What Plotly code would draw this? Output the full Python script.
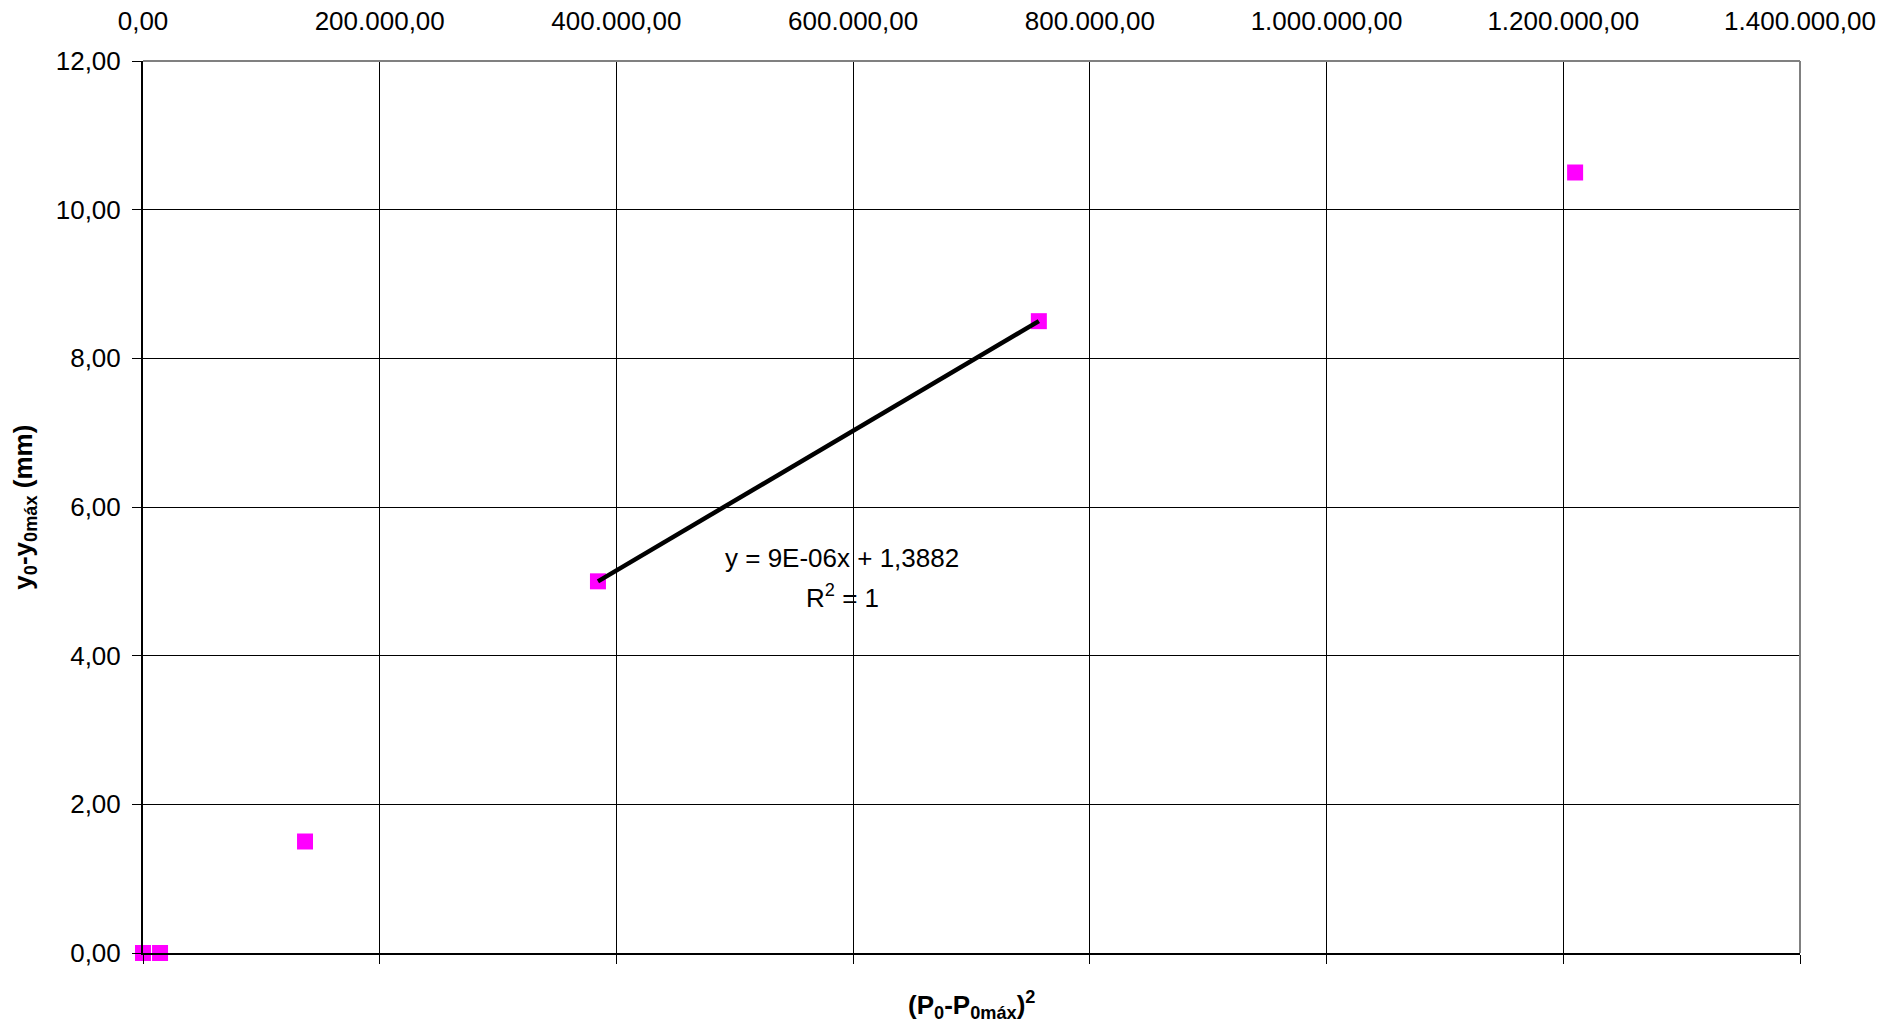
import numpy as np
import plotly.graph_objects as go

# Data
x_vals = [0, 14400, 136900, 384400, 756900, 1210000]
y_vals = [0.0, 0.0, 1.5, 5.0, 8.5, 10.5]
trend_idx = [3, 4]
eq_text = "y = 9E-06x + 1,3882"
r2_text = "R<sup>2</sup> = 1"
x_title = "<b>(P<sub>0</sub>-P<sub>0máx</sub>)<sup>2</sup></b>"
y_title = "<b>y<sub>0</sub>-y<sub>0máx</sub> (mm)</b>"

FONT = "Liberation Sans, Arial, sans-serif"
FS = 26

tx = np.array([x_vals[i] for i in trend_idx], dtype=float)
ty = np.array([y_vals[i] for i in trend_idx], dtype=float)
slope, intercept = np.polyfit(tx, ty, 1)
line_x = [tx.min(), tx.max()]
line_y = [slope * v + intercept for v in line_x]

fig = go.Figure()
fig.add_trace(go.Scatter(
    x=x_vals, y=y_vals, mode="markers",
    marker=dict(symbol="square", size=16, color="#FF00FF",
                line=dict(width=0)),
    cliponaxis=False, showlegend=False, hoverinfo="skip"))
fig.add_trace(go.Scatter(
    x=line_x, y=line_y, mode="lines",
    line=dict(color="black", width=4.5),
    showlegend=False, hoverinfo="skip"))
# dummy trace for top axis
fig.add_trace(go.Scatter(
    x=[0], y=[0], xaxis="x2", mode="markers",
    marker=dict(opacity=0), showlegend=False, hoverinfo="skip"))

fig.update_layout(
    width=1903, height=1026,
    margin=dict(l=143, r=103, t=61, b=73),
    paper_bgcolor="white", plot_bgcolor="white",
    separators=",.",
    font=dict(family=FONT, size=FS, color="black"),
    xaxis=dict(range=[0, 1400000], dtick=200000, tick0=0,
               showticklabels=False, ticks="outside", ticklen=9,
               tickcolor="black", tickwidth=1,
               showgrid=True, gridcolor="black", gridwidth=1,
               showline=True, linecolor="black", linewidth=2,
               zeroline=False, automargin=False),
    xaxis2=dict(overlaying="x", side="top", matches="x",
                range=[0, 1400000], dtick=200000, tick0=0,
                tickformat=",.2f", ticks="", showgrid=False,
                showline=False, zeroline=False, automargin=False,
                ticklabelstandoff=25,
                tickfont=dict(family=FONT, size=FS, color="black")),
    yaxis=dict(range=[0, 12], dtick=2, tick0=0, tickformat=".2f",
               ticks="outside", ticklen=9, tickcolor="black", tickwidth=1,
               ticklabelstandoff=6, automargin=False,
               showgrid=True, gridcolor="black", gridwidth=1,
               showline=True, linecolor="black", linewidth=2,
               zeroline=False,
               tickfont=dict(family=FONT, size=FS, color="black")),
)

# gray top and right borders
fig.add_shape(type="line", xref="paper", yref="paper", x0=0, x1=1, y0=1, y1=1,
              line=dict(color="#808080", width=2))
fig.add_shape(type="line", xref="paper", yref="paper", x0=1, x1=1, y0=0, y1=1,
              line=dict(color="#808080", width=2))

fig.add_annotation(x=591000, y=5.31, xref="x", yref="y", text=eq_text,
                   showarrow=False, font=dict(family=FONT, size=FS, color="black"),
                   xanchor="center", yanchor="middle")
fig.add_annotation(x=591000, y=4.80, xref="x", yref="y", text=r2_text,
                   showarrow=False, font=dict(family=FONT, size=FS, color="black"),
                   xanchor="center", yanchor="middle")
fig.add_annotation(x=0.5, y=-0.058, xref="paper", yref="paper", text=x_title,
                   showarrow=False, font=dict(family=FONT, size=FS, color="black"),
                   xanchor="center", yanchor="middle")
fig.add_annotation(x=-0.072, y=0.5, xref="paper", yref="paper", text=y_title,
                   textangle=-90, showarrow=False,
                   font=dict(family=FONT, size=FS, color="black"),
                   xanchor="center", yanchor="middle")

fig.write_html("out.html", config={"displayModeBar": False},
               post_script="document.body.style.margin='0px';document.body.style.overflow='hidden';")
